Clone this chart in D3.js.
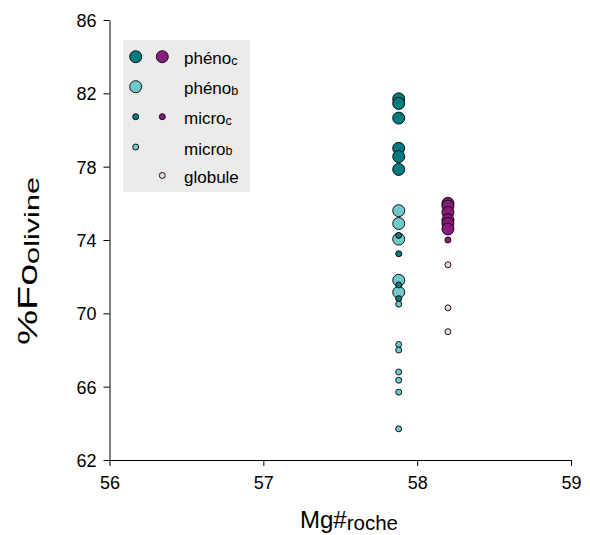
<!DOCTYPE html>
<html>
<head>
<meta charset="utf-8">
<script src="https://cdn.jsdelivr.net/npm/d3@7"></script>
<style>
body { margin: 0; background: #fff; }
svg { display: block; font-family: "Liberation Sans", Arial, sans-serif; }
</style>
</head>
<body>
<svg id="chart" width="590" height="535"></svg>
<script>
// ---- data ----
const xTicks = [56, 57, 58, 59];
const yTicks = [62, 66, 70, 74, 78, 82, 86];

const xBasalt = 57.88;   // teal column
const xOther = 58.2;     // purple column

const phenoC_teal = [81.7, 81.45, 80.65, 79.0, 78.55, 77.85];
const phenoB_teal = [75.6, 74.9, 74.05, 71.8, 71.15];
const microC_teal = [74.25, 73.25, 71.55, 70.8];
const microB_teal = [70.5, 68.3, 68.0, 66.8, 66.35, 65.7, 63.7];
const phenoC_purple = [76.0, 75.85, 75.5, 75.1, 74.9, 74.6];
const microC_purple = [74.0];
const globule = [72.65, 70.3, 69.0];

const colors = {
  darkTeal: "#007b80",
  lightTeal: "#6ec8cc",
  purple: "#8a1a7c",
  pink: "#efd4e5"
};

const series = [
  { name: "phenoC_teal", x: xBasalt, values: phenoC_teal, color: colors.darkTeal, r: 6 },
  { name: "phenoC_purple", x: xOther, values: phenoC_purple, color: colors.purple, r: 6 },
  { name: "phenoB_teal", x: xBasalt, values: phenoB_teal, color: colors.lightTeal, r: 6 },
  { name: "microC_teal", x: xBasalt, values: microC_teal, color: colors.darkTeal, r: 3 },
  { name: "microC_purple", x: xOther, values: microC_purple, color: colors.purple, r: 3 },
  { name: "microB_teal", x: xBasalt, values: microB_teal, color: colors.lightTeal, r: 3 },
  { name: "globule", x: xOther, values: globule, color: colors.pink, r: 3 }
];

const legendRows = [
  { main: "phéno", sub: "c", syms: [{ c: colors.darkTeal, r: 6, col: 0 }, { c: colors.purple, r: 6, col: 1 }] },
  { main: "phéno", sub: "b", syms: [{ c: colors.lightTeal, r: 6, col: 0 }] },
  { main: "micro", sub: "c", syms: [{ c: colors.darkTeal, r: 3, col: 0 }, { c: colors.purple, r: 3, col: 1 }] },
  { main: "micro", sub: "b", syms: [{ c: colors.lightTeal, r: 3, col: 0 }] },
  { main: "globule", sub: "", syms: [{ c: colors.pink, r: 3, col: 1 }] }
];

// ---- layout ----
const svg = d3.select("#chart");
const mLeft = 109.5, mRight = 571, mTop = 20, mBottom = 460;

const x = d3.scaleLinear().domain([56, 59]).range([mLeft, mRight]);
const y = d3.scaleLinear().domain([62, 86]).range([mBottom, mTop]);

const xAxis = svg.append("g")
  .attr("transform", `translate(0,${mBottom})`)
  .call(d3.axisBottom(x).tickValues(xTicks).tickFormat(d3.format("d"))
    .tickSize(6).tickSizeOuter(0).tickPadding(5));
const yAxis = svg.append("g")
  .attr("transform", `translate(${mLeft},0)`)
  .call(d3.axisLeft(y).tickValues(yTicks).tickFormat(d3.format("d"))
    .tickSize(6).tickSizeOuter(0).tickPadding(7));

[xAxis, yAxis].forEach(a => {
  a.select(".domain").attr("stroke", "#000").attr("stroke-width", 1);
  a.selectAll(".tick line").attr("stroke", "#000");
  a.selectAll(".tick text").attr("fill", "#000")
    .style("font-family", "'Liberation Sans', Arial, sans-serif")
    .style("font-size", "18px");
});
xAxis.selectAll(".tick text").attr("y", 29).attr("dy", 0);
yAxis.selectAll(".tick text").attr("dy", "0.36em");

// ---- legend ----
const lg = svg.append("g");
lg.append("rect").attr("x", 123).attr("y", 40).attr("width", 127).attr("height", 152)
  .attr("fill", "#ebebeb");
const rowY = [56.7, 86.7, 116.7, 147, 175.5];
const colX = [135.7, 162.3];
legendRows.forEach((row, i) => {
  row.syms.forEach(s => {
    lg.append("circle").attr("cx", colX[s.col]).attr("cy", rowY[i]).attr("r", s.r)
      .attr("fill", s.c).attr("stroke", "#000").attr("stroke-width", 0.9);
  });
  const t = lg.append("text").attr("x", 184).attr("y", rowY[i] + 7.5)
    .attr("font-size", 17).attr("fill", "#000");
  t.append("tspan").text(row.main);
  if (row.sub) t.append("tspan").attr("font-size", 12.5).attr("dy", 0.5).text(row.sub);
});

// ---- points ----
series.forEach(s => {
  svg.append("g").selectAll("circle").data(s.values).join("circle")
    .attr("cx", x(s.x)).attr("cy", d => y(d)).attr("r", s.r)
    .attr("fill", s.color).attr("stroke", "#000").attr("stroke-width", 0.9);
});

// ---- axis titles ----
const xt = svg.append("text").attr("x", 300).attr("y", 528)
  .attr("font-size", 24).attr("fill", "#000");
xt.append("tspan").text("Mg#");
xt.append("tspan").attr("font-size", 20.5).attr("dy", 2).text("roche");

const yt = svg.append("text").attr("transform", "translate(37,261) rotate(-90)")
  .attr("text-anchor", "middle").attr("font-size", 27).attr("fill", "#000")
  .attr("textLength", 168).attr("lengthAdjust", "spacingAndGlyphs");
yt.append("tspan").text("%Fo");
yt.append("tspan").attr("font-size", 21).attr("dy", 2).text("olivine");
</script>
</body>
</html>
